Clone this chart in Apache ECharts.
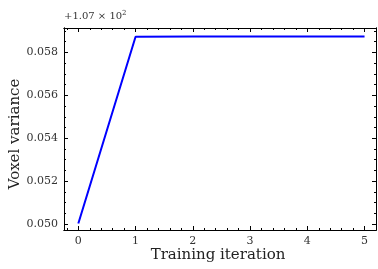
<!DOCTYPE html>
<html>
<head>
<meta charset="utf-8">
<script src="https://cdn.jsdelivr.net/npm/echarts@6/dist/echarts.min.js"></script>
<style>
  html, body { margin: 0; padding: 0; background: #fff; }
  #chart { width: 378px; height: 269px; }
</style>
</head>
<body>
<div id="chart"></div>
<script>
// values shown relative to the offset +1.07e2
var iterations = [0, 1, 2, 3, 4, 5]
var variance = [0.05003, 0.05872, 0.05873, 0.05873, 0.05873, 0.05873]
var xTicks = [0, 1, 2, 3, 4, 5]
var yTicks = [0.050, 0.052, 0.054, 0.056, 0.058]

var FONT = 'DejaVu Serif'
var xMin = -0.25, xMax = 5.2
var yMin = 0.04973, yMax = 0.05913

function range(a, b, step) {
  var out = []
  for (var v = a; v <= b + 1e-9; v += step) out.push(+v.toFixed(6))
  return out
}
var xMinor = range(-0.2, 5.2, 0.2)
var yMinor = range(0.0500, 0.0590, 0.0005)

function xAx(pos, labels, ticks, len) {
  return {
    type: 'value', position: pos, min: xMin, max: xMax,
    axisLine: { show: true, onZero: false, lineStyle: { color: '#000', width: 1 } },
    axisTick: { show: true, inside: true, length: len, customValues: ticks, lineStyle: { color: '#000' } },
    axisLabel: labels ? { show: true, customValues: xTicks, color: '#333', fontFamily: FONT, fontSize: 11, margin: 6 } : { show: false },
    splitLine: { show: false }
  }
}
function yAx(pos, labels, ticks, len) {
  return {
    type: 'value', position: pos, min: yMin, max: yMax,
    axisLine: { show: true, onZero: false, lineStyle: { color: '#000', width: 1 } },
    axisTick: { show: true, inside: true, length: len, customValues: ticks, lineStyle: { color: '#000' } },
    axisLabel: labels ? {
      show: true, customValues: yTicks, color: '#333', fontFamily: FONT, fontSize: 11, margin: 6,
      formatter: function (v) { return v.toFixed(3) }
    } : { show: false },
    splitLine: { show: false }
  }
}

var chart = echarts.init(document.getElementById('chart'))
chart.setOption({
  backgroundColor: '#fff',
  animation: false,
  grid: { left: 64, right: 2, top: 28, bottom: 39 },
  xAxis: [
    xAx('bottom', true, xTicks, 4),
    xAx('bottom', false, xMinor, 2),
    xAx('top', false, xTicks, 4),
    xAx('top', false, xMinor, 2)
  ],
  yAxis: [
    yAx('left', true, yTicks, 4),
    yAx('left', false, yMinor, 2),
    yAx('right', false, yTicks, 4),
    yAx('right', false, yMinor, 2)
  ],
  graphic: [
    {
      type: 'text', left: 64, top: 10,
      style: {
        text: '+1.07 × 10{s|2}', fill: '#333', font: '10px "DejaVu Serif"',
        rich: { s: { fontSize: 7, verticalAlign: 'top', padding: [0, 0, 6, 0], fontFamily: FONT } }
      }
    },
    {
      type: 'text', x: 218, y: 248,
      style: { text: 'Training iteration', fill: '#222', font: '15px "DejaVu Serif"', align: 'center', verticalAlign: 'top' }
    },
    {
      type: 'text', x: 8, y: 134, rotation: Math.PI / 2,
      style: { text: 'Voxel variance', fill: '#222', font: '15px "DejaVu Serif"', align: 'center', verticalAlign: 'top' }
    }
  ],
  series: [{
    type: 'line',
    data: iterations.map(function (x, i) { return [x, variance[i]] }),
    showSymbol: false,
    lineStyle: { color: '#0000ff', width: 2 },
    itemStyle: { color: '#0000ff' }
  }]
})
</script>
</body>
</html>
